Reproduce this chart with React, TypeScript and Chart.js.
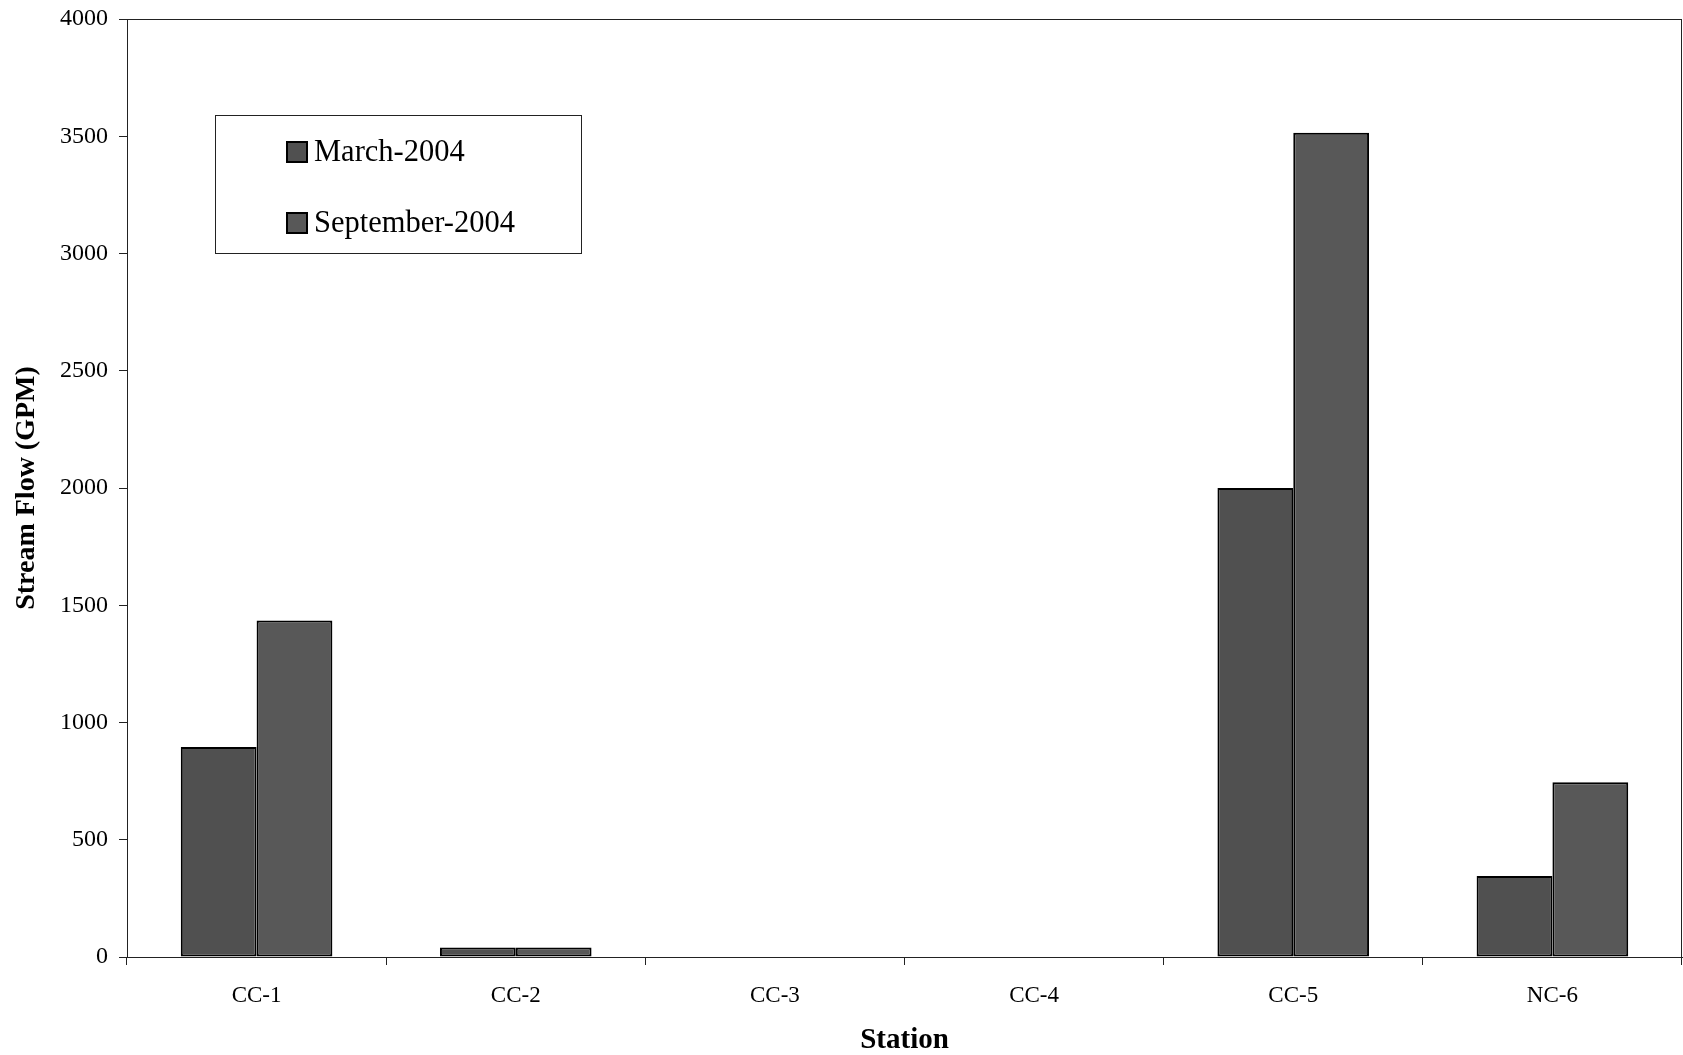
import React, { useEffect, useRef } from "react";
import { Chart, registerables } from "chart.js";

Chart.register(...registerables);

const stations = ["CC-1", "CC-2", "CC-3", "CC-4", "CC-5", "NC-6"];
const march2004 = [895, 40, 0, 0, 2000, 345];
const september2004 = [1435, 40, 0, 0, 3515, 745];
const seriesLabels = ["March-2004", "September-2004"];
const seriesColors = ["#505050", "#585858"];
const yMin = 0;
const yMax = 4000;
const yStep = 500;

const FONT = "'Liberation Serif', 'Times New Roman', serif";

const framePlugin = {
  id: "frame",
  afterDatasetsDraw(chart: any) {
    const { ctx, chartArea } = chart;
    ctx.save();
    ctx.strokeStyle = "#222";
    ctx.lineWidth = 1;
    ctx.strokeRect(chartArea.left + 0.5, chartArea.top + 0.5, chartArea.right - chartArea.left - 1, chartArea.bottom - chartArea.top);
    ctx.restore();
  },
};

const legendPlugin = {
  id: "boxLegend",
  afterDraw(chart: any) {
    const { ctx } = chart;
    const x0 = 215, y0 = 115, w = 366, h = 138;
    ctx.save();
    ctx.fillStyle = "#fff";
    ctx.fillRect(x0, y0, w, h);
    ctx.strokeStyle = "#222";
    ctx.lineWidth = 1;
    ctx.strokeRect(x0 + 0.5, y0 + 0.5, w, h);
    const rows = [152, 223];
    chart.data.datasets.forEach((ds: any, i: number) => {
      const cy = rows[i];
      ctx.fillStyle = ds.backgroundColor;
      ctx.fillRect(287, cy - 10, 20, 20);
      ctx.strokeStyle = "#000";
      ctx.lineWidth = 2;
      ctx.strokeRect(287, cy - 10, 20, 20);
      ctx.fillStyle = "#000";
      ctx.font = `30.5px ${FONT}`;
      ctx.textBaseline = "middle";
      ctx.textAlign = "left";
      ctx.fillText(ds.label, 314, cy + 1);
    });
    ctx.restore();
  },
};

export default function App() {
  const canvasRef = useRef<HTMLCanvasElement | null>(null);

  useEffect(() => {
    const canvas = canvasRef.current;
    if (!canvas) return;
    const chart = new Chart(canvas, {
      type: "bar",
      data: {
        labels: stations,
        datasets: [
          {
            label: seriesLabels[0],
            data: march2004,
            backgroundColor: seriesColors[0],
            borderColor: "#000",
            borderWidth: 2,
            borderSkipped: false,
          },
          {
            label: seriesLabels[1],
            data: september2004,
            backgroundColor: seriesColors[1],
            borderColor: "#000",
            borderWidth: 2,
            borderSkipped: false,
          },
        ],
      },
      options: {
        responsive: false,
        animation: false,
        devicePixelRatio: 1,
        layout: { padding: { top: 19, right: 1, left: 0, bottom: 0 } },
        datasets: { bar: { categoryPercentage: 0.585, barPercentage: 1.0 } },
        plugins: { legend: { display: false }, tooltip: { enabled: false } },
        scales: {
          x: {
            afterFit: (scale: any) => {
              scale.height = 98;
              scale.paddingLeft = 0;
              scale.paddingRight = 0;
            },
            grid: {
              display: true,
              drawOnChartArea: false,
              drawTicks: true,
              tickLength: 8,
              tickColor: "#222",
              offset: true,
            },
            border: { display: true, color: "#222", width: 1 },
            ticks: {
              color: "#000",
              font: { family: FONT, size: 23 },
              padding: 17,
              maxRotation: 0,
            },
            title: {
              display: true,
              text: "Station",
              color: "#000",
              font: { family: FONT, size: 29, weight: "bold" },
              padding: { top: 0, bottom: -3 },
            },
          },
          y: {
            min: yMin,
            max: yMax,
            afterFit: (scale: any) => {
              scale.width = 127;
              scale.paddingTop = 0;
              scale.paddingBottom = 0;
            },
            grid: {
              display: true,
              drawOnChartArea: false,
              drawTicks: true,
              tickLength: 8,
              tickColor: "#222",
            },
            border: { display: true, color: "#222", width: 1 },
            ticks: {
              stepSize: yStep,
              color: "#000",
              font: { family: FONT, size: 24 },
              padding: 11,
              callback: (value: any) => String(value),
            },
            title: {
              display: true,
              text: "Stream Flow (GPM)",
              color: "#000",
              font: { family: FONT, size: 28, weight: "bold" },
              padding: { top: 10, bottom: 0 },
            },
          },
        },
      },
      plugins: [framePlugin, legendPlugin],
    });
    return () => chart.destroy();
  }, []);

  return (
    <div style={{ position: "absolute", left: 0, top: 0, width: 1683, height: 1055, background: "#fff" }}>
      <canvas ref={canvasRef} width={1683} height={1055} style={{ display: "block" }} />
    </div>
  );
}
